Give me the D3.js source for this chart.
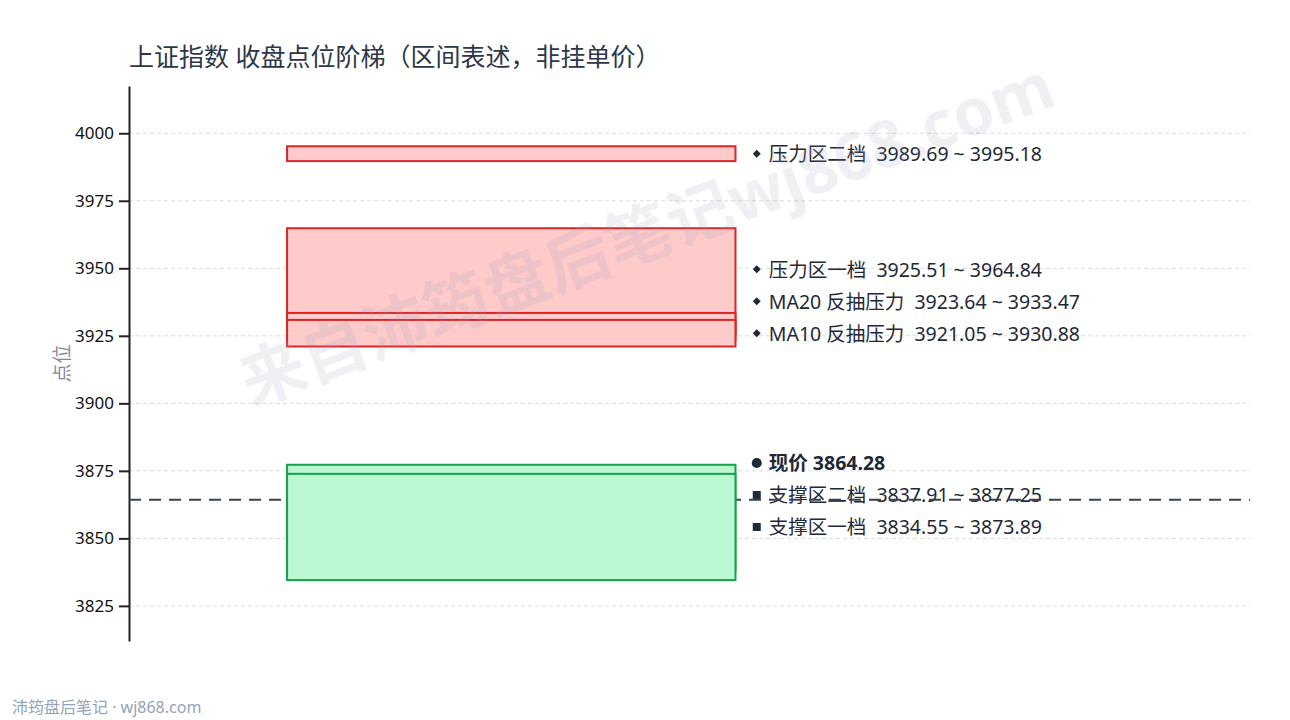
<!DOCTYPE html>
<html>
<head>
<meta charset="utf-8">
<script src="https://cdn.jsdelivr.net/npm/d3@7/dist/d3.min.js"></script>
<style>
  html, body { margin: 0; padding: 0; background: #fff; }
  svg { display: block; font-family: "Noto Sans", "Noto Sans CJK SC", sans-serif; }
</style>
</head>
<body>
<svg id="chart" width="1290" height="720"></svg>
<script>
// ---- data ----
const titleText = "上证指数 收盘点位阶梯（区间表述，非挂单价）";
const yAxisLabel = "点位";
const footerText = "沛筠盘后笔记 · wj868.com";
const watermarkText = "来自沛筠盘后笔记wj868.com";

const zoneNames = ["压力区二档", "压力区一档", "MA20 反抽压力", "MA10 反抽压力", "支撑区二档", "支撑区一档"];
const zoneLow   = [3989.69, 3925.51, 3923.64, 3921.05, 3837.91, 3834.55];
const zoneHigh  = [3995.18, 3964.84, 3933.47, 3930.88, 3877.25, 3873.89];
const zoneType  = ["pressure", "pressure", "pressure", "pressure", "support", "support"];

const currentLabel = "现价";
const currentPrice = 3864.28;

const yTicks = [3825, 3850, 3875, 3900, 3925, 3950, 3975, 4000];
const yDomain = [3812, 4017.5];

// ---- layout ----
const W = 1290, H = 720;
const margin = { left: 129, right: 40, top: 86, bottom: 79 };
const svg = d3.select("#chart");
const FONT = "'Noto Sans', 'Noto Sans CJK SC', sans-serif";

const x = d3.scaleLinear().domain([0, 100]).range([margin.left, W - margin.right]);
const y = d3.scaleLinear().domain(yDomain).range([H - margin.bottom, margin.top]);

const colors = {
  pressure: { fill: "#fecaca", stroke: "#dc2626" },
  support:  { fill: "#bbf7d0", stroke: "#16a34a" }
};

// title
svg.append("text")
  .attr("x", 129).attr("y", 66)
  .attr("font-size", 25).attr("fill", "#2d3748")
  .text(titleText);

// grid
svg.append("g").selectAll("line").data(yTicks).join("line")
  .attr("x1", x(0)).attr("x2", x(100))
  .attr("y1", d => y(d)).attr("y2", d => y(d))
  .attr("stroke", "#dcdcdc").attr("stroke-width", 1)
  .attr("stroke-dasharray", "4,3");

// y axis
const yAxis = d3.axisLeft(y).tickValues(yTicks).tickSizeInner(10).tickSizeOuter(0).tickPadding(5).tickFormat(d3.format("d"));
const gAxis = svg.append("g").attr("transform", `translate(${margin.left},0)`).call(yAxis);
gAxis.select(".domain").attr("stroke", "#222").attr("stroke-width", 2);
gAxis.selectAll(".tick line").attr("stroke", "#222").attr("stroke-width", 2);
gAxis.selectAll(".tick text").attr("font-size", 17).attr("fill", "#111")
  .attr("font-family", FONT);

// axis label
svg.append("text")
  .attr("transform", `translate(62,${(y.range()[0] + y.range()[1]) / 2}) rotate(-90)`)
  .attr("text-anchor", "middle").attr("dominant-baseline", "central")
  .attr("font-size", 19).attr("fill", "#828b9b")
  .text(yAxisLabel);

// labels with collision avoidance
const labels = zoneNames.map((n, i) => ({
  kind: zoneType[i],
  text: `${n}  ${zoneLow[i].toFixed(2)} ~ ${zoneHigh[i].toFixed(2)}`,
  target: y((zoneLow[i] + zoneHigh[i]) / 2),
  bold: false
}));
labels.push({ kind: "current", text: `${currentLabel} ${currentPrice.toFixed(2)}`, target: y(currentPrice), bold: true });
const gap = 32;
const sorted = labels.slice().sort((a, b) => b.target - a.target);
let prev = Infinity;
sorted.forEach(l => { l.pos = Math.min(l.target, prev - gap); prev = l.pos; });

const lx = x(56.0);
const gLab = svg.append("g");
labels.forEach(l => {
  const sym = l.kind === "current" ? d3.symbolCircle : (l.kind === "support" ? d3.symbolSquare : d3.symbolDiamond2);
  const size = l.kind === "current" ? 80 : (l.kind === "support" ? 64 : 40);
  gLab.append("path")
    .attr("d", d3.symbol().type(sym).size(size)())
    .attr("transform", `translate(${lx},${l.pos})`)
    .attr("fill", "#1f2937");
  gLab.append("text")
    .attr("x", lx + 12).attr("y", l.pos)
    .attr("dominant-baseline", "central")
    .attr("font-size", 19.5)
    .attr("font-weight", l.bold ? "bold" : "normal")
    .attr("fill", "#1f2937")
    .style("white-space", "pre")
    .attr("xml:space", "preserve")
    .text(l.text);
});

// current price line
svg.append("line")
  .attr("x1", x(0)).attr("x2", x(100))
  .attr("y1", y(currentPrice)).attr("y2", y(currentPrice))
  .attr("stroke", "#374151").attr("stroke-width", 2)
  .attr("stroke-dasharray", "12,8");

// zones
svg.append("g").selectAll("rect").data(zoneNames.map((n, i) => i)).join("rect")
  .attr("x", x(14.1)).attr("width", x(54.1) - x(14.1))
  .attr("y", i => y(zoneHigh[i]))
  .attr("height", i => y(zoneLow[i]) - y(zoneHigh[i]))
  .attr("fill", i => colors[zoneType[i]].fill)
  .attr("stroke", i => colors[zoneType[i]].stroke)
  .attr("stroke-width", 2);

// footer
svg.append("text")
  .attr("x", 12).attr("y", 713)
  .attr("font-size", 16).attr("fill", "#94a3b8")
  .text(footerText);

// watermark
svg.append("text")
  .attr("transform", "translate(646,232) rotate(-20.5)")
  .attr("text-anchor", "middle").attr("dominant-baseline", "central")
  .attr("font-size", 65).attr("font-weight", "bold")
  .attr("fill", "#94a3b8").attr("fill-opacity", 0.16)
  .text(watermarkText);
</script>
</body>
</html>
